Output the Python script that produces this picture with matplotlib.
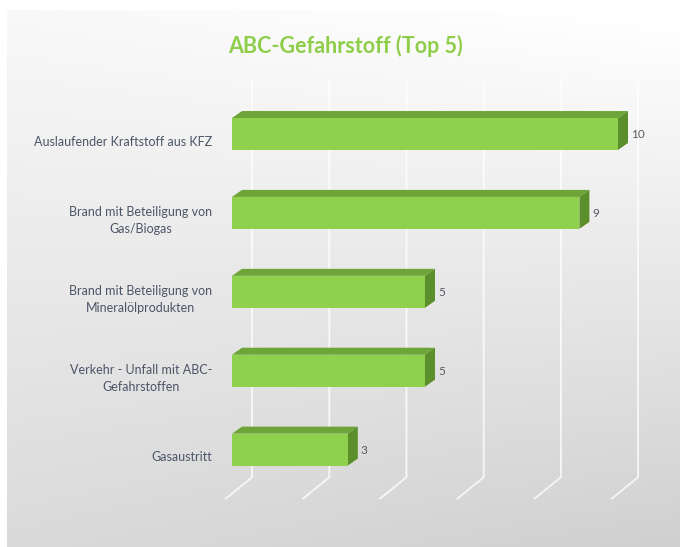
import numpy as np
import matplotlib.pyplot as plt
from matplotlib.patches import Polygon

categories = [
    "Auslaufender Kraftstoff aus KFZ",
    "Brand mit Beteiligung von\nGas/Biogas",
    "Brand mit Beteiligung von\nMineralölprodukten",
    "Verkehr - Unfall mit ABC-\nGefahrstoffen",
    "Gasaustritt",
]
values = [10, 9, 5, 5, 3]
grid_ticks = [0, 2, 4, 6, 8, 10]
title = "ABC-Gefahrstoff (Top 5)"

W, H = 680, 547
fig = plt.figure(figsize=(W / 100, H / 100), dpi=100)
fig.patch.set_facecolor("white")

# gray gradient panel behind the chart
bg = fig.add_axes([7 / W, 0, 1 - 7 / W, 1 - 10 / H])
bg.set_axis_off()
yy, xx = np.mgrid[0:1:300j, 0:1:400j]
shade = 0.975 - 0.12 * yy - 0.04 * xx * yy + 0.03 * xx * (1 - yy)
shade = np.clip(shade, 0, 1)
bg.imshow(np.dstack([shade] * 3), aspect="auto", extent=[0, 1, 0, 1], origin="upper")

# chart axes laid over the whole figure: value 0 at x=232px, 10 at 618px
ppu = 38.6
x0px, y0px, rowpx = 232, 134, 78.9
ax = fig.add_axes([0, 0, 1, 1])
ax.set_xlim(-x0px / ppu, (W - x0px) / ppu)
ax.set_ylim((H - y0px) / rowpx, -y0px / rowpx)
ax.set_axis_off()
ax.patch.set_alpha(0)

dx, dy = 10 / ppu, 7 / rowpx
h = 0.405
back = 0.52
grid_top, grid_bot = -0.71, 4.35
slant_x, slant_y = 27 / ppu, 22 / rowpx

for t in grid_ticks:
    gx = t + back
    ax.plot([gx, gx, gx - slant_x], [grid_top, grid_bot, grid_bot + slant_y],
            color="white", lw=1.3, alpha=0.8, solid_capstyle="butt", zorder=1)

front_c, top_c, side_c = "#8fd04c", "#6ea538", "#5b8f2c"
for i, v in enumerate(values):
    t, b = i - h / 2, i + h / 2
    ax.add_patch(Polygon([(0, t), (dx, t - dy), (v + dx, t - dy), (v, t)],
                         closed=True, fc=top_c, ec="none", zorder=3))
    ax.add_patch(Polygon([(v, t), (v + dx, t - dy), (v + dx, b - dy), (v, b)],
                         closed=True, fc=side_c, ec="none", zorder=3))
    ax.add_patch(Polygon([(0, t), (v, t), (v, b), (0, b)],
                         closed=True, fc=front_c, ec="none", zorder=4))
    ax.text(v + 0.34, i + 0.01, str(v), ha="left", va="center",
            fontsize=8.5, color="#555a60", family="Lato", zorder=5)
    ax.text(-20 / ppu, i + 0.1, categories[i], ha="right", va="center",
            fontsize=9, color="#4c5566", family="Lato", linespacing=1.5,
            multialignment="center", zorder=5)

fig.text(345 / W, 1 - 46 / H, title, ha="center", va="center",
         fontsize=15.5, fontweight="bold", color="#8fce4a", family="Lato")

fig.savefig("out.png", dpi=100)
